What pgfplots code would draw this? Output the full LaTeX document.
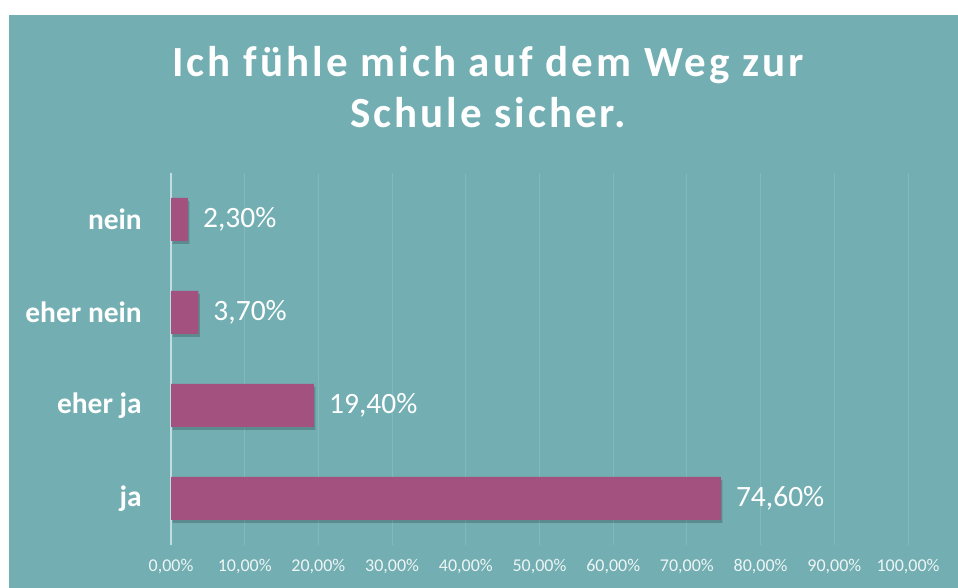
\documentclass[border=0pt]{standalone}
\usepackage{fontspec}
\setmainfont{Carlito}
\newfontfamily\titlefont[LetterSpace=7]{Carlito}
\usepackage{pgfplots}
\pgfplotsset{compat=1.18}
\usetikzlibrary{shadows}
\definecolor{bgc}{HTML}{72AEB2}
\definecolor{barc}{HTML}{A3527F}
\definecolor{gridc}{HTML}{84B9BC}
\definecolor{axc}{HTML}{C2DDDF}
\definecolor{tickc}{HTML}{EEF5F5}
\begin{document}
\begin{tikzpicture}[x=1pt,y=1pt]
\useasboundingbox (0,0) rectangle (958,588);
\fill[white] (0,0) rectangle (958,588);
\fill[bgc] (9,0) rectangle (958,573);
\node[anchor=base, text=white, inner sep=0pt] at (488,511) {\fontsize{43}{50}\selectfont\titlefont\bfseries Ich fühle mich auf dem Weg zur};
\node[anchor=base, text=white, inner sep=0pt] at (488,460) {\fontsize{43}{50}\selectfont\titlefont\bfseries Schule sicher.};
\begin{axis}[
  at={(171pt,43pt)}, anchor=south west,
  scale only axis, width=737pt, height=372pt,
  xbar, bar width=43pt,
  xmin=0, xmax=100, ymin=-0.5, ymax=3.5,
  xtick={0,10,...,100},
  ytick={0,1,2,3},
  yticklabels={ja,eher ja,eher nein,nein},
  major tick length=0pt,
  xmajorgrids, ymajorgrids=false,
  grid style={color=gridc, line width=1pt},
  axis x line=bottom, axis y line=left,
  x axis line style={draw=none},
  y axis line style={draw=axc, line width=2pt, -},
  xticklabel={\pgfmathprintnumber[fixed,fixed zerofill,precision=2,use comma,assume math mode=true]{\tick}\%},
  xticklabel style={font=\fontsize{18}{21}\selectfont, text=tickc, anchor=center, yshift=-22pt, inner sep=0pt},
  yticklabel style={font=\fontsize{29.5}{33}\selectfont\bfseries, text=white, anchor=east, inner sep=0pt, xshift=-29pt},
  nodes near coords={\pgfmathprintnumber[fixed,fixed zerofill,precision=2,use comma,assume math mode=true]{\pgfplotspointmeta}\%},
  every node near coord/.append style={font=\fontsize{29.5}{33}\selectfont, text=white, anchor=west, inner sep=0pt, xshift=15pt},
  clip=false,
]
\addplot[fill=barc, draw=none, drop shadow={shadow xshift=1.5pt, shadow yshift=-3pt, fill=black, opacity=0.2}] coordinates {(74.6,0) (19.4,1) (3.7,2) (2.3,3)};
\end{axis}
\end{tikzpicture}
\end{document}
